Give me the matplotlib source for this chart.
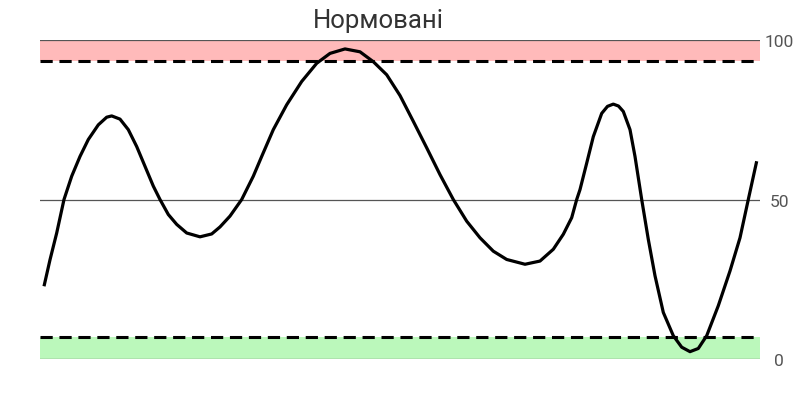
import matplotlib
matplotlib.use('Agg')
import matplotlib.pyplot as plt

# значення кривої (x у пікселях від лівого краю області, y у %)
curve_x = [4, 10, 16.7, 24, 31.7, 40, 48.3, 58.3, 66.7, 71.7, 80, 88.3, 96.7, 105,
           113.3, 120, 128.3, 136.7, 146.7, 160, 171.7, 180, 190, 201.7, 213.3, 221.7,
           233.3, 246.7, 261.7, 276.7, 290, 305, 320, 333.3, 346.7, 360, 373.3, 386.7,
           400, 413.3, 426.7, 440, 453.3, 466.7, 485, 500, 513.3, 523.3, 531.7, 536.7,
           540, 546.7, 553.3, 561.7, 567.5, 573.3, 578.5, 583.3, 590, 595, 601.7, 608.3,
           615, 623.3, 633.3, 641.7, 650, 658.3, 666.7, 678.3, 690, 700, 708.3, 716.7]
curve_y = [22.8, 31.1, 39.5, 50, 57.3, 63.5, 68.8, 73.4, 75.8, 76.2, 75.2, 71.9, 66.6,
           60.4, 54.2, 50, 45.3, 42.2, 39.5, 38.3, 39.2, 41.4, 44.8, 50, 57.3, 63.5,
           71.9, 79.7, 87, 92.7, 95.8, 97.2, 96.3, 93.2, 89.1, 82.6, 74.5, 66.2, 57.8,
           50, 43.2, 38, 33.8, 31.2, 29.7, 30.7, 34.4, 39.1, 44.3, 50, 53.1, 61.4, 69.7,
           77, 79.2, 79.9, 79.3, 77.6, 71.9, 63.5, 50, 37.5, 26.1, 14.6, 7.3, 3.7, 2.3,
           3.3, 7.3, 16.7, 27.6, 38, 50, 62]

hlines = [0, 50, 100]
yticks = [0, 50, 100]
low_limit = 7
high_limit = 93.3
title = 'Нормовані'

plt.rcParams['font.family'] = ['Roboto', 'DejaVu Sans']

fig = plt.figure(figsize=(8, 4), dpi=100)
ax = fig.add_axes([0.05, 0.1025, 0.9, 0.7975])

# зони
ax.axhspan(high_limit, 100, color='#ffbaba', lw=0, zorder=1)
ax.axhspan(0, low_limit, color='#bbf8bb', lw=0, zorder=1)

for h in hlines:
    ax.axhline(h, color='#555555', lw=0.9, zorder=2)

ax.axhline(high_limit, color='black', lw=2.2, ls=(0, (4, 2.2)), zorder=3)
ax.axhline(low_limit, color='black', lw=2.2, ls=(0, (4, 2.2)), zorder=3)

ax.plot(curve_x, curve_y, color='black', lw=2.3, solid_capstyle='butt',
        solid_joinstyle='round', zorder=4)

ax.set_xlim(0, 720)
ax.set_ylim(0, 100)
for s in ax.spines.values():
    s.set_visible(False)
ax.set_xticks([])
ax.set_yticks([])

for t in yticks:
    ax.text(1.0265, t - 0.8, str(t), transform=ax.get_yaxis_transform(), ha='center',
            va='center', fontsize=12.5, color='#555555')

fig.text(378 / 800, 1 - 21 / 400, title, ha='center', va='center',
         fontsize=18.5, color='#333333')

fig.savefig('out.png', dpi=100)
